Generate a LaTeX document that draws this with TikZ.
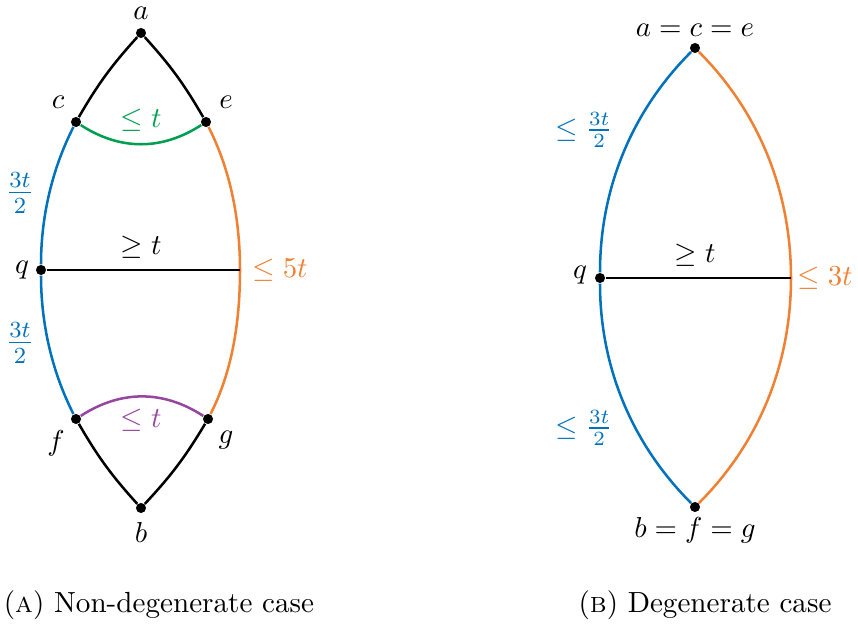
\documentclass[tikz,border=0pt]{standalone}
\usepackage{amsmath}
\definecolor{myblue}{RGB}{0,114,189}
\definecolor{myorange}{RGB}{240,128,50}
\definecolor{mygreen}{RGB}{0,158,80}
\definecolor{mypurple}{RGB}{150,70,160}
\begin{document}
\begin{tikzpicture}[x=0.357pt,y=0.357pt,
  edge/.style={line width=0.9pt},
  dot/.style={circle,fill=black,inner sep=0pt,minimum size=3.6pt},
  lbl/.style={inner sep=1pt,scale=1.03},
  captext/.style={inner sep=1pt,scale=1.04}]
\path[use as bounding box] (0,0) rectangle (858,624);
% ---------- (A) ----------
\node[dot] (a) at (141,591) {};
\node[dot] (c) at (76,502) {};
\node[dot] (e) at (206,502) {};
\node[dot] (q) at (41,354) {};
\coordinate (qr) at (240,354);
\node[dot] (f) at (76,205) {};
\node[dot] (g) at (208,205) {};
\node[dot] (b) at (141,116) {};
\draw[edge] (a) to[bend right=6] (c);
\draw[edge] (a) to[bend left=6] (e);
\draw[edge] (f) to[bend right=6] (b);
\draw[edge] (g) to[bend left=6] (b);
\draw[edge,myblue] (c) to[out=243,in=90,looseness=0.86] (q) to[out=270,in=117,looseness=0.86] (f);
\draw[edge,myorange] (e) to[out=-63,in=90,looseness=0.86] (qr) to[out=270,in=63,looseness=0.86] (g);
\draw[edge,mygreen] (c) to[out=-33,in=213] (e);
\draw[edge,mypurple] (f) to[out=33,in=147] (g);
\draw[edge] (q) -- (qr);
\node[lbl] (la) at (141,611) {$a$};
\node[lbl] (lc) at (58,522) {$c$};
\node[lbl] (le) at (226,522) {$e$};
\node[lbl] (lq) at (22,354) {$q$};
\node[lbl] (lf) at (56,181) {$f$};
\node[lbl] (lg) at (226,184) {$g$};
\node[lbl] (lb) at (141,92) {$b$};
\node[lbl,text=mygreen] (lct) at (141,504) {$\leq t$};
\node[lbl] (lqt) at (141,377) {$\geq t$};
\node[lbl,text=myorange] (l5t) at (280,354) {$\leq 5t$};
\node[lbl,text=mypurple] (lfg) at (141,204) {$\leq t$};
\node[lbl,text=myblue] (l1) at (20,431) {\large$\frac{3t}{2}$};
\node[lbl,text=myblue] (l2) at (20,281) {\large$\frac{3t}{2}$};
% ---------- (B) ----------
\node[dot] (T) at (695,576) {};
\node[dot] (q2) at (600,346) {};
\coordinate (r2) at (791,346);
\node[dot] (B) at (695,117) {};
\draw[edge,myblue] (T) to[out=225,in=90,looseness=0.9] (q2) to[out=270,in=135,looseness=0.9] (B);
\draw[edge,myorange] (T) to[out=-45,in=90,looseness=0.9] (r2) to[out=270,in=45,looseness=0.9] (B);
\draw[edge] (q2) -- (r2);
\node[lbl] (lT) at (695,594) {$a=c=e$};
\node[lbl] (lB) at (695,94) {$b=f=g$};
\node[lbl] (lq2) at (580,349) {$q$};
\node[lbl] (lqt2) at (695,369) {$\geq t$};
\node[lbl,text=myorange] (l3t) at (825,346) {$\leq 3t$};
\node[lbl,text=myblue] (lu) at (584,494) {$\leq \frac{3t}{2}$};
\node[lbl,text=myblue] (ld) at (584,196) {$\leq \frac{3t}{2}$};
% ---------- captions ----------
\node[captext] (capA) at (159,19) {(\textsc{a}) Non-degenerate case};
\node[captext] (capB) at (705,19) {(\textsc{b}) Degenerate case};
\end{tikzpicture}
\end{document}
